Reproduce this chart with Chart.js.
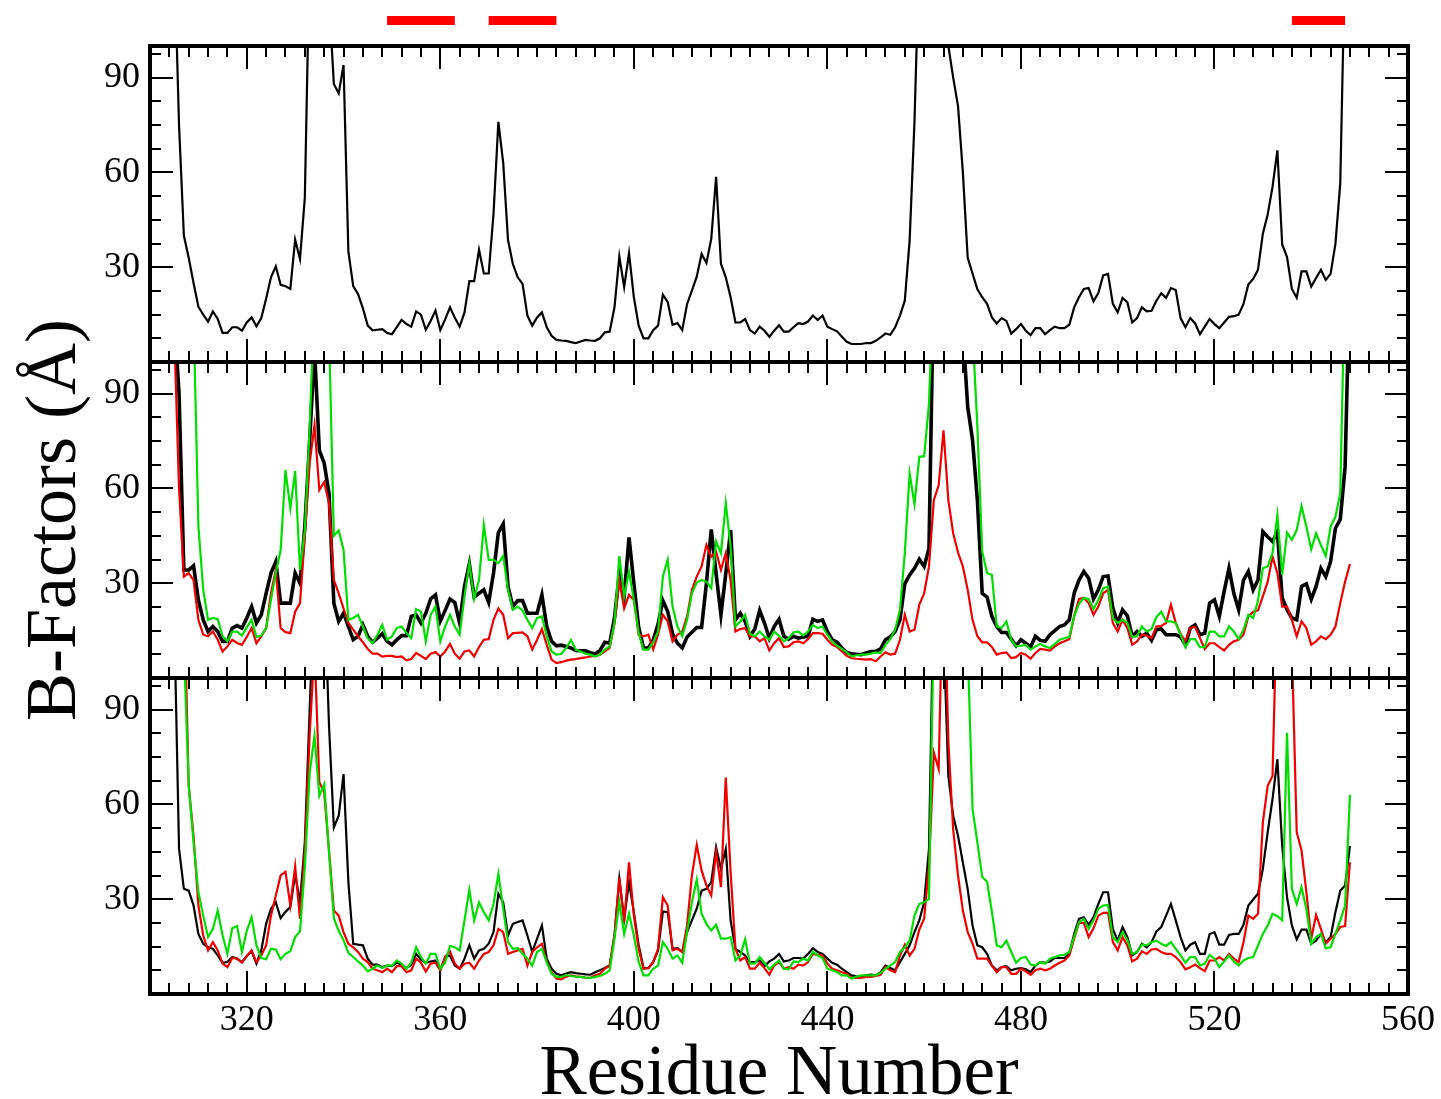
<!DOCTYPE html>
<html>
<head>
<meta charset="utf-8">
<title>B-Factors per residue</title>
<script src="https://cdn.jsdelivr.net/npm/chart.js@4.4.1/dist/chart.umd.min.js"></script>
<style>
  html, body { margin: 0; padding: 0; background: #fff; }
  #wrap { width: 1441px; height: 1099px; }
</style>
</head>
<body>
<div id="wrap"><canvas id="bfactors" width="1441" height="1099"></canvas></div>
<script>
// residue numbering of the first value in every series below
const FIRST_RESIDUE = 305;
const xTickLabels = [320, 360, 400, 440, 480, 520, 560];
const yTickLabels = [30, 60, 90];
// highlighted residue ranges (red bars above the top panel)
const markedSegments = [[349, 363], [370, 384], [536, 547]];

// top panel
const topBlack = [
  130, 75, 40, 33, 25, 17.5, 15, 12.8, 16, 13.6,
  9.2, 9.2, 11, 11, 9.9, 12.5, 14.1, 11.3, 13.9, 20,
  26.8, 30.3, 24.4, 24, 23.1, 38.7, 32.6, 52, 130, 150,
  150, 140, 115, 88, 85, 94, 35, 24, 21.5, 17,
  11.5, 10, 10.2, 10.4, 9.2, 8.8, 11, 13.3, 12, 11.2,
  16, 15, 10.2, 13, 16.3, 10.1, 13.5, 17.3, 14, 11.2,
  15.7, 25.6, 25.6, 35.5, 28, 28, 47, 76, 63, 38.5,
  31, 26.8, 24.7, 14.7, 11.5, 14.1, 15.7, 11, 8.3, 7,
  6.8, 6.7, 6.3, 6, 6.5, 7, 6.8, 6.7, 7.5, 9.4,
  9.6, 17.3, 33.4, 23.7, 34.4, 20.5, 11.5, 7.5, 7.5, 10.1,
  11.5, 21.3, 18.9, 11.8, 12.3, 10.1, 18.3, 22.6, 27, 34.2,
  31.3, 39, 58.6, 31.1, 26.8, 20.5, 12.5, 12.5, 13.6, 10.1,
  9, 11.2, 9.9, 8, 9.9, 11.6, 9.6, 9.6, 11, 12.3,
  12, 12.8, 14.7, 13.3, 14.7, 11.2, 10.4, 9.7, 8, 6.4,
  5.7, 5.7, 5.7, 6, 6, 6.7, 7.8, 9, 8.6, 11,
  14.7, 19.4, 38.5, 76, 130, 150, 150, 150, 150, 130,
  100, 90, 81, 60, 33, 28, 23, 20.5, 18.4, 14.1,
  12.2, 13.9, 13, 9, 10.4, 12, 9.9, 8.5, 10.7, 10.7,
  8.8, 10.1, 11.2, 10.7, 10.7, 11.8, 17.3, 20.5, 23.1, 23.4,
  19.2, 21.8, 27.4, 27.9, 18.4, 15.7, 20.3, 18.9, 12.5, 13.9,
  17.3, 16, 16.2, 19.4, 21.8, 20.3, 23.4, 22.8, 13.9, 11,
  13.9, 12.2, 8.8, 11.2, 13.6, 12, 10.7, 12.5, 14.3, 14.5,
  15, 18.4, 24.5, 26.3, 29.2, 40.6, 46.7, 55.4, 67, 37.2,
  33.2, 23.1, 20.3, 28.7, 28.7, 23.9, 26.6, 29.2, 26, 27.9,
  37.4, 56.5, 130, 150
];

// middle panel
const midBlack = [
  115, 90, 34.2, 34.2, 35.5, 24.7, 18.4, 14.7, 16.3, 14.7,
  11.6, 11.6, 15.8, 16.6, 15.8, 19, 22.6, 17.4, 20, 26.8,
  33.2, 36.8, 23.7, 23.7, 23.7, 33.2, 30, 48, 75, 104,
  72, 68, 58.4, 23.7, 17.9, 20.5, 16.3, 12.1, 13.2, 16.8,
  13.2, 11.3, 12.6, 14, 11.6, 10.5, 12.1, 13.4, 13.4, 19.5,
  20, 17.4, 20.5, 25, 26.3, 18, 21.4, 25, 23.9, 17.4,
  29, 36.1, 25.6, 26.8, 27.9, 23.9, 33.2, 46, 48.7, 29,
  22.6, 24.5, 24.5, 20.5, 20.5, 20.5, 26.3, 16.3, 11.6, 10.2,
  10.4, 10, 9.5, 8.7, 8.6, 8.6, 8, 7.6, 8.7, 11.3,
  11, 19, 33, 26, 44.5, 30, 16, 9.5, 9.5, 12,
  17, 24.5, 21, 14, 11, 9.5, 13, 14.5, 16, 16,
  30, 47, 33, 20, 33, 46.8, 18.4, 20.5, 17.9, 13.2,
  15.5, 21.4, 17.4, 12.6, 16.3, 18.6, 13.2, 12.3, 13.2, 12.6,
  13, 13.2, 18.6, 17.9, 18.4, 14.7, 12.1, 11.3, 9.5, 8.1,
  7.7, 7.5, 7.4, 7.9, 8.4, 8.4, 9.2, 12.1, 13, 14.7,
  18.4, 29.8, 32.6, 34.7, 37.6, 35.3, 41, 130, 150, 150,
  150, 150, 150, 110, 85.8, 75.3, 56.3, 26.8, 25.6, 19.5,
  16.3, 14.4, 14.4, 12.3, 10.2, 12.1, 11, 9.8, 13.2, 11.9,
  11.6, 13.7, 15, 16.3, 16.8, 18.4, 26.8, 31, 33.7, 31.6,
  25, 27.9, 32.1, 32.3, 22.1, 17.4, 21.6, 19.7, 13.2, 14.7,
  13.2, 14.2, 11.9, 15.3, 15.5, 13.7, 13.7, 13.7, 13, 10.5,
  15.8, 16.8, 13.7, 14.2, 23.7, 24.7, 19.5, 27.4, 34.7, 26.8,
  21.6, 31, 33.7, 27.9, 31, 46.3, 44.7, 43.2, 46.3, 25.3,
  21.6, 19, 18.4, 29, 29.8, 24.9, 29, 34.7, 32.1, 36.8,
  47.4, 50.2, 66.8, 130
];
const midRed = [
  110, 60, 32.1, 33.2, 31, 18.4, 13.7, 13.2, 14.7, 12.1,
  8.4, 10, 12.1, 11.1, 10.5, 13, 15.8, 11, 13.2, 15.8,
  26.8, 34.2, 15.8, 14.5, 14.2, 21, 23.7, 45, 68, 80,
  59.5, 62, 55.3, 31, 26.8, 22, 17.4, 15.3, 13.2, 11.3,
  9.2, 7.7, 7.7, 6.8, 7, 7, 6.6, 6.8, 5.6, 6,
  7.9, 7, 6, 7.7, 8.2, 6.8, 8.4, 10.8, 7.7, 6.1,
  8.4, 8.7, 6.8, 9.8, 12.1, 12.3, 18.4, 22, 20, 12.6,
  14.2, 14.3, 14.4, 13.2, 9, 12.1, 15.5, 10.5, 5.8, 4.7,
  5, 5.5, 5.8, 6, 6.3, 6.5, 6.8, 7, 7.4, 8.4,
  9.5, 17.4, 31, 22, 26.3, 24.7, 13.7, 13.2, 13.7, 9,
  13.7, 20, 17.9, 11.6, 13.7, 14.7, 19.5, 27.9, 32.1, 35.3,
  42.1, 38.4, 40, 34.2, 39.5, 31, 14.7, 15.5, 15.8, 13.2,
  13.2, 11.6, 12.6, 8.7, 11, 12.6, 9.8, 10, 11.3, 11.6,
  11, 12.3, 14.2, 14.2, 14, 12.1, 10.5, 9.8, 8.4, 7,
  6.3, 6.1, 6, 5.8, 6, 5.3, 6.8, 8.1, 7.4, 7.7,
  12.1, 20, 14.7, 15.3, 23.2, 26.8, 35.3, 56.3, 61, 78.4,
  56.3, 45.8, 39.7, 35.3, 27.9, 18.4, 13.2, 11.3, 11.3, 9.8,
  7.4, 7.9, 8.1, 6.3, 6.6, 7.9, 7.4, 6.1, 7.9, 9.2,
  9, 8.7, 10, 11, 11.6, 12.3, 19.5, 25, 25.3, 23.7,
  20, 22.6, 26.8, 27.9, 17.4, 14.7, 18.4, 15.8, 10.5, 11.6,
  13.7, 13.4, 12.6, 16.3, 16.5, 17.4, 23.2, 17.4, 14, 11.6,
  15.8, 16.3, 12.6, 9.2, 11, 11, 9.8, 8.7, 10.5, 11.6,
  12.1, 13.7, 19.5, 21, 21.4, 25.8, 30.5, 38.4, 33.2, 22.6,
  22.6, 18.4, 13.2, 17.9, 15.8, 10.5, 11.6, 13.2, 12.3, 13.7,
  16.3, 23.7, 30.5, 36.1
];
const midGreen = [
  120, 120, 120, 120, 115, 48, 27.9, 18.4, 19, 18.6,
  13.2, 11.6, 14.7, 14.7, 13.4, 16, 18.4, 13, 13.4, 15.8,
  24.7, 33.2, 40.5, 65.8, 53.7, 65.5, 34.2, 46.8, 79.5, 120,
  130, 130, 110, 45, 46.7, 40.5, 18.4, 19, 20, 16.3,
  12.6, 11, 13.7, 16.8, 12.1, 13.2, 15.8, 16.3, 14.2, 12.6,
  21.8, 21, 11.6, 20, 22.6, 11.6, 16.3, 20, 16.3, 13.7,
  25.8, 36.3, 25, 31, 48.4, 37.4, 37.4, 36.3, 38.6, 27.9,
  21.6, 22.6, 21.4, 18.4, 15.8, 19, 19.5, 13.2, 8.4, 7.4,
  7.6, 9.5, 12, 9, 8.4, 7.7, 7.4, 6.8, 7.4, 9,
  10, 17.4, 38.6, 25.8, 33.7, 24.7, 14.2, 9, 9, 11.3,
  14.7, 32.1, 37.4, 22.6, 16.3, 13.2, 18.4, 26.8, 30.2, 31,
  30.5, 28.4, 43.2, 39.5, 55.3, 41.6, 16.3, 17.9, 20, 14,
  13.2, 14.7, 13.2, 12.1, 14.7, 13.4, 11.6, 12.6, 14.4, 14.7,
  13.4, 14.7, 16.8, 15.8, 16.3, 13.7, 11.6, 10.2, 9.2, 8.1,
  6.8, 7.2, 7.4, 7.4, 7.7, 8.1, 7.9, 10.5, 12.3, 15.3,
  21.6, 39.5, 64.7, 55, 70, 70.2, 86.8, 130, 150, 150,
  150, 150, 150, 150, 150, 110, 79.5, 40, 33.2, 32.6,
  16.3, 15.8, 17.9, 12.1, 10, 10.2, 10.5, 9, 10, 10.8,
  10, 9.5, 10.8, 12.1, 12.6, 13, 19.5, 23.5, 25.3, 25,
  21.8, 24.7, 28.4, 28.9, 18.9, 17.4, 18.4, 17.4, 13, 13.2,
  16.3, 14.7, 15.5, 19.3, 21, 17.9, 17.9, 17.4, 13.7, 9.8,
  12.3, 12.3, 9.8, 9.8, 14.7, 14.7, 13.2, 13.2, 16.3, 14.7,
  12.3, 15.3, 20, 19, 24.5, 34.7, 35.3, 39.5, 51.6, 32.6,
  46, 43.7, 46.8, 54.4, 47.9, 40.7, 45.8, 42.1, 38.6, 47.9,
  51, 58.4, 130, 150
];

// bottom panel
const botBlack = [
  120, 46, 33.3, 32.7, 28, 19, 15.9, 14.8, 14.3, 12.2,
  9.9, 10.1, 11.7, 11.2, 10.1, 12, 13.5, 9.6, 13.8, 22.2,
  27, 29, 24, 26, 27.5, 38, 29, 48, 90, 130,
  150, 130, 84.8, 52.7, 56.4, 69.6, 35.4, 15.9, 15.6, 15.4,
  11.2, 9.3, 9.3, 8.5, 9, 8.8, 9.9, 9.3, 8.2, 9.3,
  12.7, 10.9, 9.9, 10.3, 10.6, 7.5, 11.7, 12.2, 9, 8,
  11.2, 15.4, 11.2, 13.8, 14.3, 15.9, 19.6, 31.7, 29, 18.5,
  22.2, 22.8, 23.3, 18.5, 13.3, 17.5, 21.7, 11.2, 8, 6.4,
  5.9, 6.5, 6.9, 6.6, 6.4, 6.2, 6.1, 6.9, 7.5, 8.2,
  9, 18.5, 36.4, 23.8, 35.4, 25.9, 15.4, 8.2, 8.2, 10.1,
  13.8, 26.1, 25.9, 14.3, 14.5, 13.3, 19.6, 23.3, 27, 32.7,
  33.3, 35.4, 46.4, 39.6, 45.9, 23.3, 14.3, 13.3, 12.2, 10.1,
  10.1, 10.6, 8.8, 10.3, 11.2, 12.7, 10.3, 10.6, 11.4, 11.4,
  11.2, 12.7, 14.5, 13.3, 12.7, 11.2, 9.9, 9.3, 8, 6.9,
  5.9, 5.6, 5.4, 5.9, 6.1, 5.9, 6.9, 9, 8.2, 7.5,
  10.1, 12.7, 15.4, 19.6, 23.3, 29, 45.9, 130, 150, 115,
  69, 56.4, 50.1, 41.6, 33.2, 21.7, 15.4, 14.8, 12.7, 9,
  7.5, 8.5, 8.8, 7.5, 8, 8.2, 7.8, 6.9, 9, 10.1,
  9.9, 10.3, 11.4, 11.4, 11.4, 12.7, 19, 23.8, 24.3, 21.9,
  24.3, 28.5, 32.2, 32.2, 20.6, 16.9, 21.2, 18, 12.2, 13.3,
  15.9, 14.8, 16.4, 19.8, 21.2, 24.8, 28.5, 23.3, 18, 13.8,
  15.6, 16.4, 12.7, 12.7, 19, 19.6, 15.6, 15.6, 18.7, 19,
  19, 21.9, 28, 29.9, 31.7, 39.6, 51.2, 61.7, 74.3, 46.9,
  30.6, 21.7, 17.3, 20.4, 20.4, 15.9, 16.9, 19, 16.4, 18,
  25.9, 32.7, 34.3, 46.9
];
const botRed = [
  140, 140, 130, 65.9, 50, 28, 18.5, 13.8, 16.4, 13.8,
  9.6, 8.5, 11.4, 11.2, 9.9, 12, 13.8, 10.1, 12.2, 15.4,
  24.8, 31.2, 37.5, 38.7, 28, 40.4, 23.8, 45, 82, 110,
  67, 63.8, 45.4, 26.4, 24.8, 19.6, 15.9, 14.8, 13.3, 11.2,
  10.1, 8, 7.5, 6.9, 8, 6.9, 8.8, 8.8, 6.9, 7.5,
  11.2, 9.9, 7.1, 9.6, 9.9, 7.5, 11.7, 13.5, 9.6, 8,
  9.6, 9.9, 8, 10.6, 12.7, 13.3, 15.4, 20.6, 19.6, 12.7,
  13.3, 13.8, 14.3, 9, 13.3, 14.8, 15.9, 10.1, 6.9, 4.8,
  4.6, 5.5, 5.9, 5.6, 5.4, 5.2, 5.1, 5.9, 6.4, 8,
  9, 18.5, 36.9, 22.7, 41.7, 24.8, 14.3, 8, 8.2, 10.1,
  14.3, 30.6, 28, 13.8, 14.3, 13.3, 21.7, 37.5, 47.2, 39.1,
  34.3, 31.2, 45.1, 33.8, 68.5, 38.5, 14.3, 10.6, 11.7, 8,
  8, 9.9, 8.2, 6.1, 9, 10.1, 8, 8.5, 8, 9.3,
  9, 10.1, 12.7, 12.4, 12.2, 9.6, 8, 7.5, 6.9, 6.4,
  5.1, 5.1, 5.1, 5.4, 5.4, 5.7, 6.1, 8.5, 7.5, 6.9,
  12.2, 15.6, 12.2, 14.3, 20.4, 23.8, 40.7, 76.4, 71.2, 140,
  80, 52, 37.5, 26.4, 19.6, 15.9, 11.2, 11.2, 11.2, 9,
  6.9, 8.5, 8.5, 6.4, 6.4, 8, 7.2, 6.1, 7.5, 8,
  7.5, 8, 9, 9.9, 10.6, 12.2, 17.5, 22.5, 22.5, 18,
  20.8, 24.8, 25.7, 25.7, 16.4, 13.8, 18, 15.4, 10.3, 11.2,
  13.5, 12.7, 14.1, 14.3, 13.3, 12.7, 12.7, 11.7, 10.1, 7.8,
  8.5, 9.3, 8.2, 7.2, 10.6, 10.6, 11.7, 10.6, 12.7, 11.2,
  10.1, 16.4, 24.8, 23.8, 25.4, 54.3, 65.9, 69, 130, 150,
  150, 110, 51.2, 45.4, 32.2, 17.5, 25, 20.6, 15.9, 17.5,
  19, 21.2, 21.5, 41.7
];
const botGreen = [
  150, 140, 110, 66, 48, 32.2, 24.8, 18, 20.6, 26.4,
  18.5, 12.7, 20.8, 21.5, 13.3, 20, 24.3, 15.4, 11.4, 11,
  14.3, 14.1, 11, 12.7, 13.5, 18, 19.8, 40, 70, 81.7,
  62.7, 66.4, 45, 24, 20, 17, 13, 11.7, 10.3, 9,
  7.2, 8, 9, 8.2, 9, 9, 10.6, 9.6, 8, 9.9,
  14.8, 11.7, 9.6, 12.7, 12.7, 8, 9.9, 15.2, 14.8, 13.8,
  23.3, 33, 23.3, 29, 25.9, 23.3, 28.5, 38, 27, 16.4,
  14.3, 14.5, 12.7, 11.2, 9, 13.3, 14.3, 10.1, 6.4, 5.4,
  5.4, 6, 5.7, 5.5, 5.4, 5.2, 5.1, 5.4, 5.7, 6.4,
  7.5, 17.5, 29, 19, 25.4, 18.5, 10.1, 5.9, 5.9, 8,
  9, 16.4, 14.3, 11.2, 12.2, 9.9, 19.6, 29, 36.2, 25.4,
  22.2, 20.1, 21.9, 17.5, 17.5, 18, 10.6, 12.2, 17.3, 9.6,
  9.6, 11.7, 9.9, 7.8, 9.3, 10.6, 8, 7.8, 10.3, 10.1,
  11.2, 10.6, 13.3, 12.2, 11.4, 8, 7.5, 6.9, 5.9, 5.9,
  4.8, 5.5, 5.9, 5.9, 5.9, 5.9, 6.7, 8, 9, 10.1,
  13.3, 14.8, 16.9, 24.8, 28.5, 29, 30.1, 120, 150, 150,
  150, 150, 150, 150, 110, 58.5, 48, 37, 35.6, 26,
  15.4, 14.8, 16.9, 13.3, 9.9, 11.4, 11.7, 9.3, 9, 10.1,
  9.6, 11.2, 11.7, 12.2, 12.4, 13.3, 18, 22.7, 23.8, 20.6,
  23.3, 27, 28, 28.2, 18, 16.4, 19.6, 17, 12.7, 13.3,
  15.6, 15.4, 16.4, 16.9, 15.9, 15.2, 16.4, 14.3, 12.2, 9.9,
  11.7, 11.7, 9, 9.6, 12.4, 11.2, 8.5, 10.3, 12.2, 10.3,
  9, 10.6, 11.4, 11.7, 15.4, 19, 21.7, 25.4, 24.6, 23.3,
  82.7, 33.3, 28.5, 33.8, 26.9, 15.9, 18, 19, 14.5, 14.8,
  19, 23.3, 28, 63
];

const FONT = "'Liberation Serif', 'Times New Roman', serif";
const RED = '#ee0000';
const GREEN = '#00dd00';

function toPoints(values) {
  return values.map((v, i) => ({ x: FIRST_RESIDUE + i, y: v }));
}

function series(values, color, width, axis, order) {
  return {
    data: toPoints(values),
    borderColor: color,
    borderWidth: width,
    yAxisID: axis,
    order: order,
    pointRadius: 0,
    tension: 0,
    fill: false
  };
}

function panelAxis(title) {
  return {
    type: 'linear',
    position: 'left',
    stack: 'panels',
    stackWeight: 1,
    min: 0,
    max: 100,
    grid: { display: false, drawTicks: false },
    border: { display: false },
    ticks: { color: '#000', font: { family: FONT, size: 36 }, padding: 10 },
    afterBuildTicks: s => { s.ticks = yTickLabels.map(v => ({ value: v })); },
    afterFit: s => { s.width = 150; },
    title: title
      ? { display: true, text: title, color: '#000',
          font: { family: FONT, size: 72 }, padding: { top: 13, bottom: 0 } }
      : { display: false }
  };
}

// frames, inward ticks, per-panel clipping and the marker bars
const panelFrames = {
  id: 'panelFrames',
  beforeDatasetDraw(chart, args) {
    const { ctx, chartArea } = chart;
    const ys = chart.scales[args.meta.yAxisID];
    ctx.save();
    ctx.beginPath();
    ctx.rect(chartArea.left, ys.top, chartArea.right - chartArea.left, ys.bottom - ys.top);
    ctx.clip();
  },
  afterDatasetDraw(chart) {
    chart.ctx.restore();
  },
  afterDraw(chart) {
    const { ctx, chartArea: area } = chart;
    const xs = chart.scales.x;
    ctx.save();
    ctx.strokeStyle = '#000';
    ['yTop', 'yMid', 'yBot'].forEach(id => {
      const ys = chart.scales[id];
      ctx.lineWidth = 2;
      ctx.beginPath();
      for (let v = 304; v < 560; v += 4) {
        const px = Math.round(xs.getPixelForValue(v));
        const len = v % 40 === 0 ? 23 : 11;
        ctx.moveTo(px, ys.top); ctx.lineTo(px, ys.top + len);
        ctx.moveTo(px, ys.bottom); ctx.lineTo(px, ys.bottom - len);
      }
      for (let k = 1; k * 7.5 < 100; k++) {
        const v = k * 7.5;
        const py = Math.round(ys.getPixelForValue(v));
        const len = v % 30 === 0 ? 23 : 11;
        ctx.moveTo(area.left, py); ctx.lineTo(area.left + len, py);
        ctx.moveTo(area.right, py); ctx.lineTo(area.right - len, py);
      }
      ctx.stroke();
      ctx.lineWidth = 4;
      ctx.strokeRect(area.left, ys.top, area.right - area.left, ys.bottom - ys.top);
    });
    ctx.fillStyle = '#ff0000';
    markedSegments.forEach(([a, b]) => {
      const x0 = xs.getPixelForValue(a);
      const x1 = xs.getPixelForValue(b);
      ctx.fillRect(x0, 16, x1 - x0, 9);
    });
    ctx.restore();
  }
};

new Chart(document.getElementById('bfactors'), {
  type: 'line',
  data: {
    datasets: [
      series(topBlack, '#000', 2.2, 'yTop', 2),
      series(midBlack, '#000', 3.6, 'yMid', 2),
      series(midRed, RED, 2.2, 'yMid', 1),
      series(midGreen, GREEN, 2.2, 'yMid', 0),
      series(botBlack, '#000', 2.2, 'yBot', 2),
      series(botRed, RED, 2.2, 'yBot', 1),
      series(botGreen, GREEN, 2.2, 'yBot', 0)
    ]
  },
  options: {
    responsive: false,
    animation: false,
    devicePixelRatio: 1,
    layout: { padding: { top: 46, right: 33, bottom: 0, left: 0 } },
    plugins: { legend: { display: false }, tooltip: { enabled: false } },
    scales: {
      x: {
        type: 'linear',
        min: 300,
        max: 560,
        grid: { display: false, drawTicks: false },
        border: { display: false },
        ticks: { color: '#000', font: { family: FONT, size: 36 }, padding: 5, autoSkip: false, maxRotation: 0 },
        afterBuildTicks: s => { s.ticks = xTickLabels.map(v => ({ value: v })); },
        afterFit: s => { s.height = 105; },
        title: {
          display: true, text: 'Residue Number', color: '#000',
          font: { family: FONT, size: 71, lineHeight: 0.68 }, padding: { top: 0, bottom: 0 }
        }
      },
      yBot: panelAxis(null),
      yMid: panelAxis('B-Factors (Å)'),
      yTop: panelAxis(null)
    }
  },
  plugins: [panelFrames]
});
</script>
</body>
</html>
